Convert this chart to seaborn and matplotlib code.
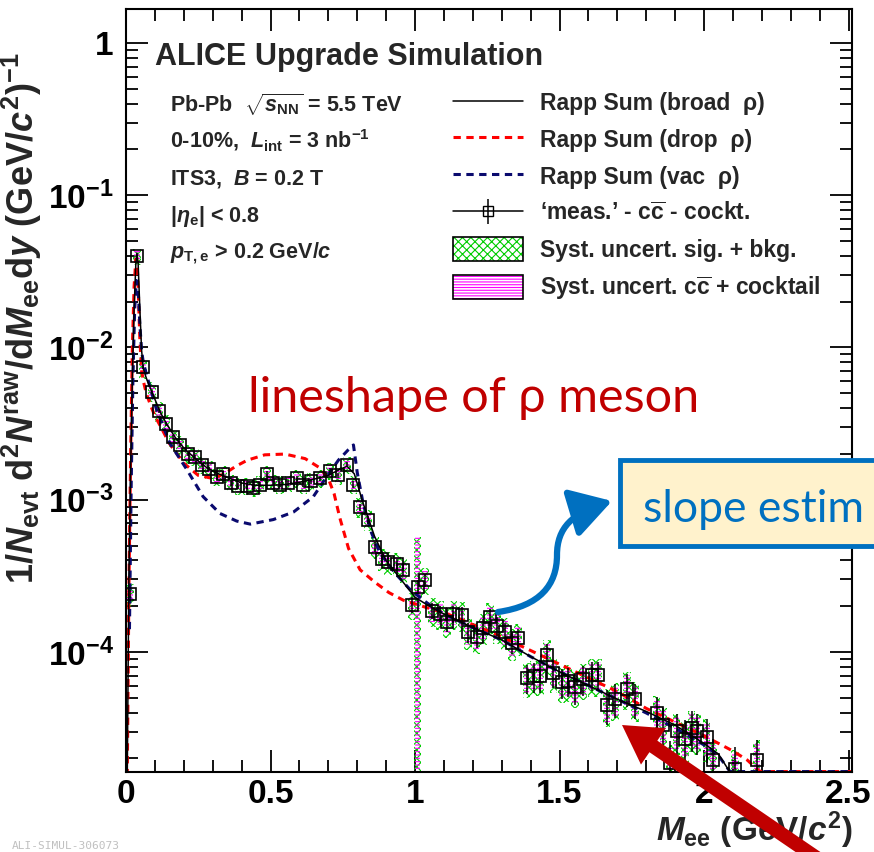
import numpy as np
import seaborn as sns
import matplotlib.pyplot as plt
import matplotlib.transforms as mtransforms
from matplotlib.lines import Line2D
from matplotlib.patches import Patch, Rectangle, FancyArrow, FancyArrowPatch
from matplotlib.path import Path
from matplotlib.ticker import MultipleLocator, LogLocator, NullFormatter

W, H = 874, 852
YMIN, YMAX = 1.63e-5, 1.67

# 'meas.' - cc - cocktail points (log10 of the yield)
meas_m = [0.014, 0.038, 0.059, 0.090, 0.114, 0.138, 0.163, 0.187, 0.214, 0.239,
          0.263, 0.288, 0.314, 0.337, 0.362, 0.389, 0.418, 0.441, 0.464, 0.487,
          0.510, 0.533, 0.562, 0.591, 0.614, 0.639, 0.671, 0.706, 0.735, 0.764,
          0.787, 0.810, 0.838, 0.861, 0.885, 0.907, 0.937, 0.960, 0.988, 1.012,
          1.035, 1.058, 1.087, 1.110, 1.133, 1.161, 1.184, 1.213, 1.236, 1.260,
          1.283, 1.311, 1.335, 1.357, 1.386, 1.410, 1.432, 1.456, 1.479, 1.507,
          1.530, 1.554, 1.582, 1.611, 1.634, 1.663, 1.692, 1.733, 1.761, 1.836,
          1.859, 1.882, 1.905, 1.934, 1.957, 1.975, 2.009, 2.032, 2.107, 2.182]
meas_log = [-3.62, -1.40, -2.13, -2.29, -2.42, -2.50, -2.59, -2.64, -2.70, -2.72,
            -2.77, -2.80, -2.85, -2.83, -2.89, -2.91, -2.91, -2.92, -2.90, -2.83,
            -2.89, -2.90, -2.89, -2.86, -2.90, -2.88, -2.86, -2.81, -2.84, -2.77,
            -2.90, -3.05, -3.13, -3.31, -3.39, -3.41, -3.42, -3.46, -3.69, -3.57,
            -3.53, -3.73, -3.75, -3.80, -3.75, -3.76, -3.87, -3.90, -3.84, -3.77,
            -3.83, -3.87, -3.94, -3.91, -4.17, -4.16, -4.16, -4.02, -4.14, -4.20,
            -4.19, -4.23, -4.18, -4.15, -4.15, -4.35, -4.31, -4.24, -4.31, -4.40,
            -4.48, -4.73, -4.52, -4.57, -4.50, -4.52, -4.56, -4.71, -4.77, -4.71]
stat_rel = [0.06, 0.02, 0.03, 0.03, 0.03, 0.03, 0.03, 0.03, 0.03, 0.03,
            0.03, 0.03, 0.04, 0.04, 0.04, 0.04, 0.04, 0.04, 0.04, 0.04,
            0.04, 0.04, 0.04, 0.04, 0.04, 0.04, 0.04, 0.04, 0.04, 0.04,
            0.05, 0.05, 0.06, 0.07, 0.08, 0.08, 0.08, 0.09, 0.12, 0.10,
            0.10, 0.12, 0.12, 0.14, 0.13, 0.13, 0.15, 0.15, 0.14, 0.13,
            0.14, 0.15, 0.16, 0.16, 0.22, 0.22, 0.22, 0.18, 0.20, 0.22,
            0.22, 0.24, 0.22, 0.22, 0.22, 0.26, 0.25, 0.24, 0.26, 0.28,
            0.30, 0.40, 0.30, 0.32, 0.30, 0.30, 0.32, 0.38, 0.40, 0.35]
syst_rel = [0.16, 0.12, 0.16, 0.15, 0.15, 0.14, 0.14, 0.14, 0.14, 0.13,
            0.13, 0.13, 0.13, 0.13, 0.13, 0.13, 0.13, 0.13, 0.13, 0.13,
            0.13, 0.13, 0.13, 0.13, 0.13, 0.13, 0.13, 0.13, 0.13, 0.13,
            0.14, 0.15, 0.16, 0.17, 0.17, 0.17, 0.17, 0.18, 0.20, 0.20,
            0.20, 0.21, 0.22, 0.22, 0.22, 0.22, 0.23, 0.23, 0.23, 0.23,
            0.24, 0.24, 0.24, 0.24, 0.26, 0.26, 0.26, 0.26, 0.26, 0.27,
            0.27, 0.27, 0.27, 0.28, 0.28, 0.28, 0.28, 0.28, 0.29, 0.30,
            0.30, 0.32, 0.30, 0.30, 0.30, 0.30, 0.31, 0.32, 0.33, 0.35]
cc_rel = [0.10, 0.08, 0.10, 0.10, 0.10, 0.09, 0.09, 0.09, 0.09, 0.09,
          0.09, 0.09, 0.09, 0.09, 0.09, 0.09, 0.09, 0.09, 0.09, 0.09,
          0.09, 0.09, 0.09, 0.09, 0.09, 0.09, 0.09, 0.09, 0.09, 0.09,
          0.10, 0.10, 0.11, 0.12, 0.12, 0.12, 0.12, 0.13, 0.14, 0.14,
          0.15, 0.15, 0.16, 0.16, 0.16, 0.16, 0.17, 0.17, 0.17, 0.17,
          0.18, 0.18, 0.18, 0.18, 0.20, 0.20, 0.20, 0.20, 0.20, 0.21,
          0.21, 0.21, 0.21, 0.22, 0.22, 0.22, 0.22, 0.22, 0.23, 0.24,
          0.24, 0.26, 0.24, 0.24, 0.24, 0.24, 0.25, 0.26, 0.27, 0.28]
# the bin at 1 GeV with a huge uncertainty
wide_m, wide_lo, wide_hi = 1.008, 1.0e-6, 5.7e-4

# Rapp model curves (log10)
broad_m = [0.004, 0.010, 0.016, 0.022, 0.028, 0.034, 0.038, 0.042, 0.048, 0.054,
           0.060, 0.070, 0.085, 0.10, 0.12, 0.14, 0.17, 0.20, 0.24, 0.28,
           0.32, 0.36, 0.40, 0.45, 0.50, 0.55, 0.60, 0.65, 0.70, 0.74,
           0.765, 0.79, 0.82, 0.86, 0.90, 0.95, 1.00, 1.05, 1.10, 1.20,
           1.30, 1.40, 1.50, 1.60, 1.70, 1.80, 1.90, 2.00, 2.05, 2.09]
broad_log = [-4.9, -3.5, -2.8, -2.2, -1.75, -1.45, -1.38, -1.45, -1.75, -2.02,
             -2.14, -2.20, -2.27, -2.34, -2.43, -2.50, -2.59, -2.66, -2.73, -2.79,
             -2.83, -2.86, -2.89, -2.905, -2.905, -2.90, -2.885, -2.865, -2.84, -2.80,
             -2.78, -2.83, -3.02, -3.24, -3.40, -3.52, -3.64, -3.70, -3.75, -3.84,
             -3.92, -4.03, -4.13, -4.22, -4.31, -4.39, -4.48, -4.60, -4.67, -4.79]
drop_m = [0.004, 0.010, 0.016, 0.022, 0.028, 0.034, 0.038, 0.042, 0.048, 0.054,
          0.060, 0.070, 0.085, 0.10, 0.12, 0.15, 0.20, 0.25, 0.30, 0.34,
          0.38, 0.42, 0.48, 0.55, 0.62, 0.67, 0.70, 0.72, 0.74, 0.77,
          0.81, 0.86, 0.91, 0.96, 1.01, 1.06, 1.10, 1.20, 1.30, 1.40,
          1.50, 1.60, 1.70, 1.80, 1.90, 2.00, 2.10, 2.15, 2.19, 2.20, 2.51]
drop_log = [-4.9, -3.6, -2.7, -2.0, -1.6, -1.42, -1.43, -1.6, -1.95, -2.15,
            -2.22, -2.30, -2.38, -2.45, -2.52, -2.63, -2.76, -2.84, -2.86, -2.83,
            -2.78, -2.74, -2.705, -2.70, -2.73, -2.79, -2.86, -2.96, -3.12, -3.32,
            -3.46, -3.54, -3.61, -3.66, -3.69, -3.72, -3.74, -3.82, -3.90, -3.99,
            -4.08, -4.17, -4.26, -4.37, -4.46, -4.55, -4.65, -4.71, -4.78, -4.785, -4.785]
vac_m = [0.012, 0.018, 0.024, 0.030, 0.036, 0.042, 0.048, 0.054, 0.060, 0.083,
         0.106, 0.152, 0.21, 0.267, 0.325, 0.383, 0.43, 0.51, 0.58, 0.648,
         0.694, 0.735, 0.77, 0.787, 0.80, 0.821, 0.85, 0.879, 0.93, 0.983,
         1.05, 1.10, 1.20, 1.30, 1.40, 1.50, 1.60, 1.70, 1.80, 1.90,
         2.00, 2.05, 2.09, 2.10, 2.51]
vac_log = [-3.85, -2.9, -2.2, -1.75, -1.56, -1.62, -1.85, -2.02, -2.10, -2.26,
           -2.41, -2.63, -2.80, -2.98, -3.09, -3.14, -3.16, -3.13, -3.08, -2.98,
           -2.85, -2.74, -2.67, -2.64, -2.82, -3.03, -3.22, -3.35, -3.48, -3.59,
           -3.69, -3.75, -3.84, -3.92, -4.03, -4.13, -4.22, -4.31, -4.40, -4.50,
           -4.61, -4.68, -4.785, -4.785, -4.785]

GREEN = '#00cc00'
MAGENTA = '#ff00ff'
NAVY = '#0a0a6e'
DARKRED = '#c00000'
BLUE = '#0070c0'

sns.set_style("ticks")
plt.rcParams.update({
    'font.family': ['Liberation Sans', 'DejaVu Sans'],
    'font.weight': 'bold',
    'axes.labelweight': 'bold',
    'mathtext.fontset': 'custom',
    'mathtext.rm': 'Liberation Sans:bold',
    'mathtext.it': 'Liberation Sans:italic:bold',
    'mathtext.bf': 'Liberation Sans:bold',
    'hatch.linewidth': 0.8,
    'axes.edgecolor': 'black',
    'axes.linewidth': 1.5,
    'xtick.color': 'black',
    'ytick.color': 'black',
})

fig = plt.figure(figsize=(W / 100, H / 100), dpi=100)
ax = fig.add_axes([126 / W, (H - 772) / H, (852 - 126) / W, (772 - 9) / H])
# pixel coordinates measured from the top-left corner of the picture
pix = mtransforms.Affine2D().scale(1, -1).translate(0, H)

m = np.array(meas_m)
y = 10 ** np.array(meas_log)
srel = np.array(syst_rel)
crel = np.array(cc_rel)

ax.bar(m, y * 2 * srel, bottom=y * (1 - srel), width=0.026, fill=False,
       edgecolor=GREEN, hatch='xxxx', linewidth=0)
ax.bar([wide_m], [wide_hi - wide_lo], bottom=[wide_lo], width=0.026, fill=False,
       edgecolor=GREEN, hatch='xxxx', linewidth=0)
ax.bar(m, y * 2 * crel, bottom=y * (1 - crel), width=0.02, fill=False,
       edgecolor=MAGENTA, hatch='-----', linewidth=0)
ax.bar([wide_m], [wide_hi - wide_lo], bottom=[wide_lo], width=0.016, fill=False,
       edgecolor=MAGENTA, hatch='-----', linewidth=0)

sns.lineplot(x=drop_m, y=10 ** np.array(drop_log), ax=ax, color='red', lw=2.2,
             linestyle=(0, (2.4, 1.8)), sort=False, estimator=None)
sns.lineplot(x=vac_m, y=10 ** np.array(vac_log), ax=ax, color=NAVY, lw=2.2,
             linestyle=(0, (2.4, 1.8)), sort=False, estimator=None)
sns.lineplot(x=broad_m, y=10 ** np.array(broad_log), ax=ax, color='black', lw=1.1,
             sort=False, estimator=None)

ax.errorbar(m, y, yerr=y * np.array(stat_rel), fmt='s', ms=8, mfc='none',
            mec='black', mew=1.2, ecolor='black', elinewidth=1.1, capsize=0)

ax.set_yscale('log')
ax.set_xlim(0, 2.512)
ax.set_ylim(YMIN, YMAX)
ax.set_xticks([0, 0.5, 1, 1.5, 2, 2.5], labels=['0', '0.5', '1', '1.5', '2', '2.5'])
ax.xaxis.set_minor_locator(MultipleLocator(0.1))
ax.set_yticks([1e-4, 1e-3, 1e-2, 1e-1, 1],
              labels=[r'$\mathdefault{10^{-4}}$', r'$\mathdefault{10^{-3}}$',
                      r'$\mathdefault{10^{-2}}$', r'$\mathdefault{10^{-1}}$', '1'])
ax.yaxis.set_minor_locator(LogLocator(base=10, subs=np.arange(2, 10)))
ax.yaxis.set_minor_formatter(NullFormatter())
ax.tick_params(which='both', direction='in', top=True, right=True, width=1.3,
               labelsize=24)
ax.tick_params(which='major', length=16)
ax.tick_params(which='minor', length=8.5)
ax.tick_params(axis='x', pad=5)
ax.tick_params(axis='y', pad=9)

ax.set_xlabel(r'$M_{\rm ee}$ (GeV/$c^2$)', fontsize=24, fontweight='bold', loc='right')
ax.xaxis.set_label_coords(1.0, -0.049)
ax.set_ylabel(r'1/$N_{\rm evt}$ d$^2N^{\rm raw}$/d$M_{\rm ee}$d$y$ (GeV/$c^2$)$^{-1}$',
              fontsize=26, fontweight='bold')
ax.yaxis.set_label_coords(-0.113, 0.595)

# header and conditions
fig.text(155, 65, 'ALICE Upgrade Simulation', transform=pix, fontsize=22,
         va='baseline')
info = [r'Pb-Pb  $\sqrt{s_{\rm NN}}$ = 5.5 TeV',
        r'0-10%,  $L_{\rm int}$ = 3 nb$^{-1}$',
        r'ITS3,  $B$ = 0.2 T',
        r'|$\eta_{\rm e}$| < 0.8',
        r'$p_{\rm T,e}$ > 0.2 GeV/$c$']
info_y = [112, 148, 185, 222, 258]
for txt, yy in zip(info, info_y):
    fig.text(170, yy, txt, transform=pix, fontsize=15.5, va='baseline')

dash = (0, (2.4, 1.8))
handles = [
    Line2D([], [], color='black', lw=1.1),
    Line2D([], [], color='red', lw=2.2, linestyle=dash),
    Line2D([], [], color=NAVY, lw=2.2, linestyle=dash),
    (Line2D([], [], color='black', lw=1.1, marker='s', ms=7.5, mfc='none', mec='black'),
     Line2D([], [], color='black', marker='|', ms=18, ls='none', mew=1.1)),
    (Patch(fill=False, edgecolor=GREEN, hatch='xxxx', lw=0),
     Patch(fill=False, edgecolor='black', lw=1.2)),
    (Patch(fill=False, edgecolor=MAGENTA, hatch='------', lw=0),
     Patch(fill=False, edgecolor='black', lw=1.2)),
]
labels = ['Rapp Sum (broad  ρ)', 'Rapp Sum (drop  ρ)', 'Rapp Sum (vac  ρ)',
          r"‘meas.’ - c$\overline{\rm c}$ - cockt.", 'Syst. uncert. sig. + bkg.',
          r'Syst. uncert. c$\overline{\rm c}$ + cocktail']
ax.legend(handles, labels, loc='upper left', bbox_to_anchor=(453, 91),
          bbox_transform=pix, frameon=False, prop={'size': 16.5, 'weight': 'bold'},
          handlelength=3.05, handleheight=1.2, handletextpad=0.75,
          labelspacing=0.53, borderpad=0, borderaxespad=0)

# slide annotations on top of the figure
fig.text(248, 412, 'lineshape of ρ meson', transform=pix, fontsize=35,
         color=DARKRED, family=['Lato', 'Noto Sans', 'DejaVu Sans'],
         weight='normal', va='baseline')
fig.add_artist(Rectangle((620, 460), 300, 86, transform=pix, facecolor='#fff2cc',
                         edgecolor=BLUE, lw=3.5))
fig.text(643, 522, 'slope estim', transform=pix, fontsize=32, color=BLUE,
         family=['Lato', 'Noto Sans', 'DejaVu Sans'], weight='normal',
         va='baseline')
curve = Path([(498, 612), (540, 606), (557, 585), (557, 555),
              (557, 528), (572, 513), (612, 501)],
             [Path.MOVETO, Path.CURVE4, Path.CURVE4, Path.CURVE4,
              Path.CURVE4, Path.CURVE4, Path.CURVE4])
fig.add_artist(FancyArrowPatch(path=curve, transform=pix, color=BLUE, lw=4.5,
                               arrowstyle='-|>,head_length=2.5,head_width=1.5',
                               mutation_scale=10))
fig.add_artist(FancyArrow(849, 880, 622 - 849, 725 - 880, width=14, head_width=44,
                          head_length=38, length_includes_head=True,
                          transform=pix, color=DARKRED, lw=0))

fig.text(12, 851, 'ALI-SIMUL-306073', transform=pix, fontsize=8, color='#c0c0c0',
         family='DejaVu Sans Mono', weight='normal', va='bottom')

fig.savefig('out.png', dpi=100)
